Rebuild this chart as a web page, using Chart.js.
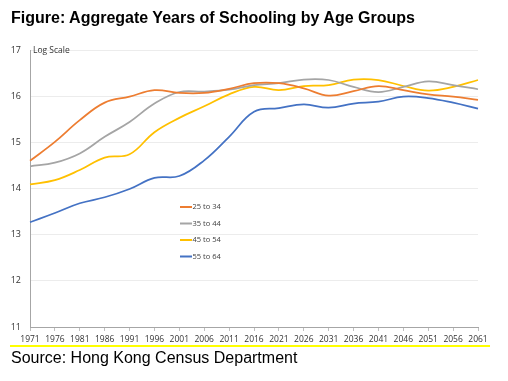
<!DOCTYPE html>
<html>
<head>
<meta charset="utf-8">
<script src="https://cdn.jsdelivr.net/npm/chart.js@4.4.1/dist/chart.umd.min.js"></script>
<style>
  html, body { margin: 0; padding: 0; background: #fff; }
  #wrap { position: relative; width: 508px; height: 381px; overflow: hidden; }
  #c { position: absolute; left: 0; top: 0; }
  #title { position: absolute; left: 11px; top: 10px; font: bold 16px "Liberation Sans", Arial, sans-serif; line-height: 1; color: #000; white-space: nowrap; }
  #logscale { position: absolute; left: 33px; top: 45px; font: 8.5px "Open Sans", sans-serif; line-height: 1.2; color: #333; }
  #rule { position: absolute; left: 10px; top: 345px; width: 480px; height: 2px; background: #ffff00; }
  #source { position: absolute; left: 11px; top: 350px; font: 16px "Liberation Sans", Arial, sans-serif; line-height: 1; color: #000; white-space: nowrap; }
</style>
</head>
<body>
<div id="wrap">
  <canvas id="c" width="508" height="381"></canvas>
  <div id="title">Figure: Aggregate Years of Schooling by Age Groups</div>
  <div id="logscale">Log Scale</div>
  <div id="rule"></div>
  <div id="source">Source: Hong Kong Census Department</div>
</div>
<script>
const years = ['1971','1976','1981','1986','1991','1996','2001','2006','2011','2016','2021','2026','2031','2036','2041','2046','2051','2056','2061'];
const seriesNames = ['25 to 34', '35 to 44', '45 to 54', '55 to 64'];
const age25to34 = [14.60, 15.01, 15.48, 15.86, 15.99, 16.13, 16.07, 16.07, 16.16, 16.28, 16.28, 16.17, 16.01, 16.11, 16.22, 16.13, 16.04, 15.99, 15.92];
const age35to44 = [14.48, 14.56, 14.76, 15.12, 15.44, 15.84, 16.09, 16.10, 16.14, 16.24, 16.28, 16.36, 16.35, 16.20, 16.09, 16.20, 16.32, 16.24, 16.15];
const age45to54 = [14.09, 14.18, 14.40, 14.67, 14.74, 15.22, 15.53, 15.78, 16.04, 16.20, 16.13, 16.22, 16.24, 16.36, 16.35, 16.22, 16.12, 16.20, 16.35];
const age55to64 = [13.27, 13.47, 13.68, 13.81, 13.99, 14.23, 14.27, 14.61, 15.12, 15.66, 15.74, 15.82, 15.75, 15.84, 15.88, 15.99, 15.96, 15.86, 15.73];
const yTicks = [11, 12, 13, 14, 15, 16, 17];

const colors = ['#ED7D31', '#A5A5A5', '#FFC000', '#4472C4'];
const seriesData = [age25to34, age35to44, age45to54, age55to64];

const legendPlugin = {
  id: 'insideLegend',
  afterDatasetsDraw(chart) {
    const ctx = chart.ctx;
    ctx.save();
    ctx.font = '7.5px "Open Sans", sans-serif';
    ctx.textBaseline = 'middle';
    ctx.textAlign = 'left';
    chart.data.datasets.forEach((ds, i) => {
      const y = 207 + i * 16.5;
      ctx.strokeStyle = ds.borderColor;
      ctx.lineWidth = 2;
      ctx.beginPath();
      ctx.moveTo(180, y);
      ctx.lineTo(192, y);
      ctx.stroke();
      ctx.fillStyle = '#404040';
      ctx.fillText(ds.label, 192.5, y);
    });
    ctx.restore();
  }
};

new Chart(document.getElementById('c'), {
  type: 'line',
  data: {
    labels: years,
    datasets: seriesData.map((d, i) => ({
      label: seriesNames[i],
      data: d,
      borderColor: colors[i],
      backgroundColor: colors[i],
      borderWidth: 1.75,
      pointRadius: 0,
      tension: 0.4,
      fill: false
    }))
  },
  options: {
    responsive: false,
    animation: false,
    devicePixelRatio: 1,
    layout: { padding: { top: 50, right: 30, left: 0, bottom: 0 } },
    plugins: { legend: { display: false }, tooltip: { enabled: false }, title: { display: false } },
    scales: {
      x: {
        type: 'category',
        offset: false,
        afterFit(s) { s.height = 54; },
        grid: { display: true, drawOnChartArea: false, drawTicks: true, tickLength: 4, color: '#bfbfbf' },
        border: { display: true, color: '#a6a6a6', width: 1 },
        ticks: { autoSkip: false, maxRotation: 0, minRotation: 0, padding: 3, color: '#333', font: { family: 'Open Sans', size: 8.5 } }
      },
      y: {
        min: 11,
        max: 17,
        afterFit(s) { s.width = 30; },
        afterBuildTicks(s) { s.ticks = yTicks.map(v => ({ value: v })); },
        grid: { color: '#ececec', drawTicks: false },
        border: { display: true, color: '#a6a6a6', width: 1 },
        ticks: { padding: 9, color: '#333', font: { family: 'Open Sans', size: 9 } }
      }
    }
  },
  plugins: [legendPlugin]
});
</script>
</body>
</html>
